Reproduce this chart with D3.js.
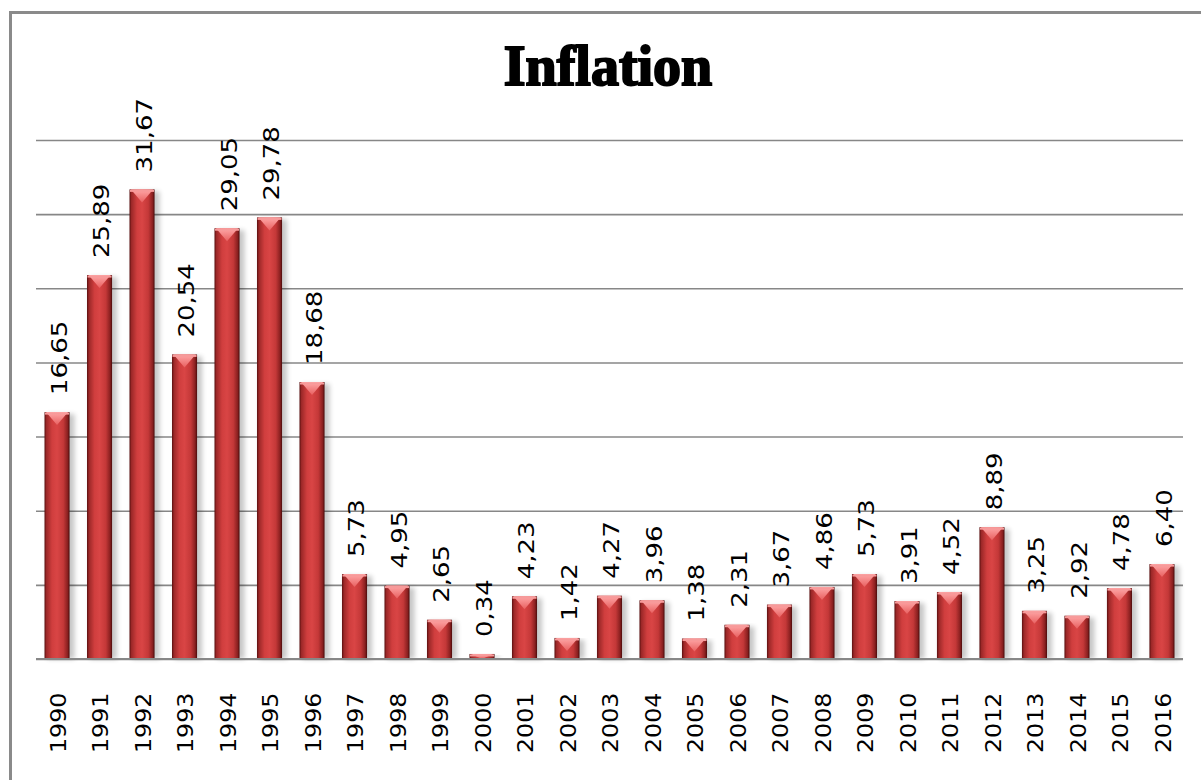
<!DOCTYPE html>
<html>
<head>
<meta charset="utf-8">
<script src="https://cdn.jsdelivr.net/npm/d3@7"></script>
<style>
  html, body { margin: 0; padding: 0; background: #fff; }
  svg { display: block; }
</style>
</head>
<body>
<div class="d3-wrapper"></div>
<script>
// Data
const years = ['1990', '1991', '1992', '1993', '1994', '1995', '1996', '1997', '1998', '1999',
  '2000', '2001', '2002', '2003', '2004', '2005', '2006', '2007', '2008', '2009',
  '2010', '2011', '2012', '2013', '2014', '2015', '2016'];
const inflation = [16.65, 25.89, 31.67, 20.54, 29.05, 29.78, 18.68, 5.73, 4.95, 2.65,
  0.34, 4.23, 1.42, 4.27, 3.96, 1.38, 2.31, 3.67, 4.86, 5.73,
  3.91, 4.52, 8.89, 3.25, 2.92, 4.78, 6.40];
const gridTicks = [0, 5, 10, 15, 20, 25, 30, 35];

const WIDTH = 1201, HEIGHT = 780;
const PLOT = { left: 36, right: 1183, top: 140, bottom: 659 };

const fmt = v => v.toFixed(2).replace('.', ',');

const xScale = d3.scaleBand()
  .domain(years)
  .range([PLOT.left, PLOT.right])
  .paddingInner(0.41)
  .paddingOuter(0.2);

const yScale = d3.scaleLinear()
  .domain([0, 35])
  .range([PLOT.bottom, PLOT.top]);

const svg = d3.select('.d3-wrapper').append('svg')
  .attr('width', WIDTH)
  .attr('height', HEIGHT);

const defs = svg.append('defs');

const bodyGrad = defs.append('linearGradient')
  .attr('id', 'barBody')
  .attr('x1', '0%').attr('x2', '100%').attr('y1', '0%').attr('y2', '0%');
[[0, '#5a0f0f'], [0.08, '#9c2828'], [0.3, '#d03e3e'], [0.5, '#d94545'], [0.75, '#c43838'], [0.92, '#8a2020'], [1, '#4a0b0b']]
  .forEach(([o, c]) => bodyGrad.append('stop').attr('offset', o).attr('stop-color', c));

const capGrad = defs.append('linearGradient')
  .attr('id', 'barCap')
  .attr('x1', '0%').attr('x2', '0%').attr('y1', '0%').attr('y2', '100%');
[[0, '#ffa8a8'], [1, '#e86060']]
  .forEach(([o, c]) => capGrad.append('stop').attr('offset', o).attr('stop-color', c));

const shadow = defs.append('filter').attr('id', 'shadow')
  .attr('x', '-30%').attr('y', '-10%').attr('width', '160%').attr('height', '120%');
shadow.append('feGaussianBlur').attr('stdDeviation', 2.5);

// outer frame (runs off the right and bottom edges)
svg.append('rect')
  .attr('x', 10.5).attr('y', 12.5)
  .attr('width', WIDTH + 20).attr('height', HEIGHT + 20)
  .attr('fill', 'none')
  .attr('stroke', '#8a8a8a')
  .attr('stroke-width', 3);

// title
svg.append('text')
  .attr('x', 608)
  .attr('y', 85)
  .attr('text-anchor', 'middle')
  .style('font-family', '"Liberation Serif", "DejaVu Serif", serif')
  .style('font-weight', 900)
  .style('font-size', '56px')
  .attr('fill', '#000')
  .attr('stroke', '#000')
  .attr('stroke-width', 2)
  .text('Inflation');

// gridlines
const yAxis = d3.axisLeft(yScale)
  .tickValues(gridTicks)
  .tickSize(-(PLOT.right - PLOT.left))
  .tickFormat('');

svg.append('g')
  .attr('transform', `translate(${PLOT.left}, 0)`)
  .call(yAxis)
  .call(g => g.select('.domain').remove())
  .call(g => g.selectAll('.tick line')
    .attr('stroke', '#878787')
    .attr('stroke-width', 1.6));

// bars
const bw = xScale.bandwidth();
const bars = svg.append('g').selectAll('g.bar')
  .data(inflation)
  .join('g')
  .attr('class', 'bar')
  .attr('transform', (d, i) => `translate(${xScale(years[i])}, ${yScale(d)})`);

bars.append('rect')
  .attr('x', 3).attr('y', 2)
  .attr('width', bw + 2)
  .attr('height', d => Math.max(0, yScale(0) - yScale(d) - 2))
  .attr('fill', '#000')
  .attr('opacity', 0.22)
  .attr('filter', 'url(#shadow)');

bars.append('rect')
  .attr('width', bw)
  .attr('height', d => yScale(0) - yScale(d))
  .attr('fill', 'url(#barBody)');

bars.append('path')
  .attr('d', d => {
    const h = Math.min(13, yScale(0) - yScale(d));
    return `M1.5,0 L${bw - 1.5},0 L${bw / 2},${h} Z`;
  })
  .attr('fill', 'url(#barCap)');

bars.append('rect')
  .attr('x', 0.5).attr('y', 0.5)
  .attr('width', bw - 1)
  .attr('height', d => Math.max(0, Math.min(2, yScale(0) - yScale(d) - 1)))
  .attr('fill', '#f79a9a');

// baseline drawn over bars
svg.append('line')
  .attr('x1', PLOT.left).attr('x2', PLOT.right)
  .attr('y1', yScale(0)).attr('y2', yScale(0))
  .attr('stroke', '#878787')
  .attr('stroke-width', 2);

// value labels
const labelFont = '"DejaVu Sans", Verdana, sans-serif';
svg.append('g').selectAll('text')
  .data(inflation)
  .join('text')
  .attr('transform', (d, i) => `translate(${xScale(years[i]) + bw / 2 + 2}, ${yScale(d) - 17}) rotate(-90) scale(1.18, 1)`)
  .attr('dy', '0.36em')
  .attr('text-anchor', 'start')
  .style('font-family', labelFont)
  .style('font-size', '22px')
  .attr('fill', '#000')
  .text(d => fmt(d));

// year labels
svg.append('g').selectAll('text')
  .data(years)
  .join('text')
  .attr('transform', d => `translate(${xScale(d) + bw / 2 + 1}, 753) rotate(-90) scale(1.13, 1)`)
  .attr('dy', '0.36em')
  .attr('text-anchor', 'start')
  .style('font-family', labelFont)
  .style('font-size', '21px')
  .attr('fill', '#000')
  .text(d => d);
</script>
</body>
</html>
